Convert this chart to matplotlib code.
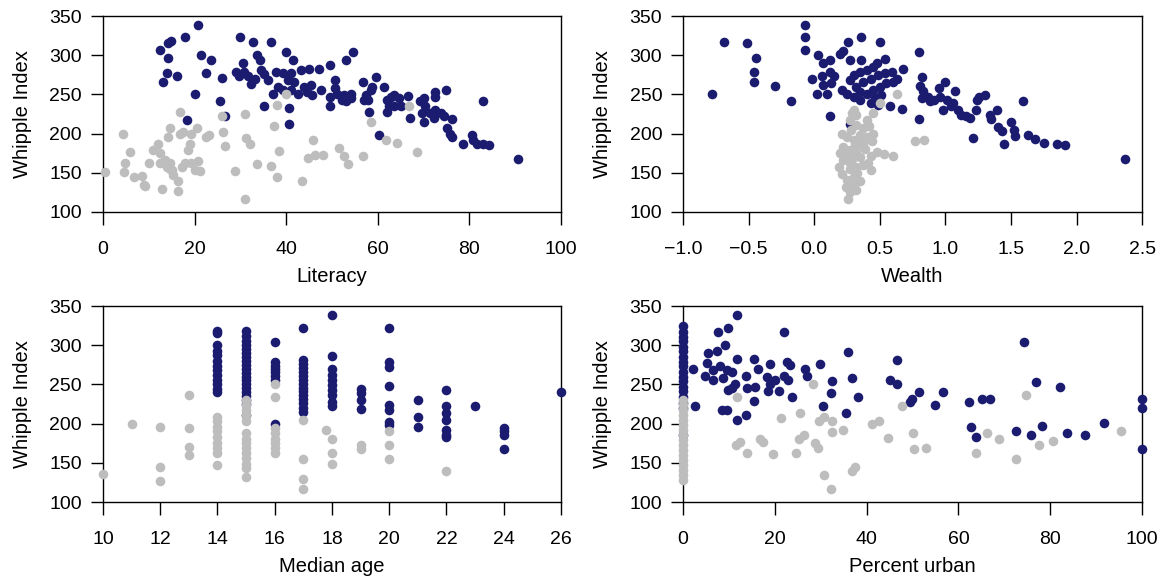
import numpy as np
import matplotlib
matplotlib.use("Agg")
import matplotlib.pyplot as plt

plt.rcParams['font.family'] = ['Liberation Sans', 'DejaVu Sans']

NAVY = '#1b1b6f'
GRAY = '#bdbdbd'

# ---- Literacy panel ----
lit_navy_x = [20.8, 14.8, 14.3, 17.9, 12.5, 14.1, 21.3, 23.5, 13.9, 13.2, 16.1, 22.4, 20.1, 25.9, 25.5,
              26.6, 18.4, 30.0, 32.8, 36.6, 33.6, 34.2, 40.0, 41.6, 30.6,
              29.1, 30.9, 29.8, 31.6, 34.5, 35.2, 36.0, 33.1, 32.4,
              37.8, 39.3, 41.1, 40.4, 41.8, 38.2, 37.1, 39.3, 41.1, 42.5,
              43.2, 45.0, 47.2, 49.6, 43.9, 45.4, 45.7, 47.5, 44.6,
              50.7, 50.7, 49.6, 49.6, 35.1, 40.6, 40.7,
              54.5, 53.0, 51.2, 52.7, 53.4, 54.1, 53.0, 54.1, 52.3,
              56.7, 59.6, 58.8, 58.5, 57.4, 57.8, 58.1, 57.0, 61.4, 60.3,
              62.1, 62.8, 63.5, 64.6, 62.4, 63.5, 62.1, 65.0, 66.6, 67.0,
              69.3, 70.0, 70.4, 69.7, 70.0, 72.6, 72.6, 74.8,
              71.5, 72.6, 73.7, 74.4, 72.2, 76.2, 75.1, 75.8, 76.2,
              78.7, 80.5, 80.9, 81.6, 83.0, 84.2, 83.0, 90.7]
lit_navy_y = [338, 318, 315, 323, 307, 297, 300, 294, 277, 266, 273, 277, 250, 271, 241,
              222, 217, 323, 317, 317, 300, 294, 304, 294, 290,
              279, 279, 273, 273, 281, 276, 268, 270, 263,
              279, 277, 277, 268, 266, 260, 251, 255, 255, 251,
              281, 283, 283, 287, 260, 262, 249, 255, 253,
              268, 258, 247, 235, 235, 233, 212,
              304, 294, 250, 249, 247, 245, 241, 251, 243,
              266, 272, 260, 255, 249, 243, 228, 243, 259, 198,
              243, 247, 249, 245, 235, 235, 228, 235, 248, 220,
              241, 245, 235, 226, 215, 253, 247, 256,
              226, 230, 226, 222, 220, 218, 207, 200, 196,
              187, 198, 192, 187, 187, 185, 241, 168]
lit_gray_x = [0.5, 4.3, 5.9, 4.9, 4.5, 6.7, 8.5, 8.9, 9.2, 13.0, 16.3, 16.3, 10.1, 11.0, 12.1, 12.5,
              12.5, 13.6, 14.6, 15.0, 15.3, 13.9, 14.7, 14.6, 14.3, 16.8, 17.5, 16.8,
              19.3, 20.6, 19.0, 18.6, 17.9, 17.2, 19.3, 20.8, 21.2, 20.1, 23.2, 22.4,
              25.9, 26.2, 26.7, 28.8, 31.0, 31.1, 31.3, 32.2, 33.7, 36.7, 37.9, 37.3, 38.4,
              37.9, 40.0, 43.5, 45.9, 44.8, 46.3, 48.1, 51.6,
              58.5, 66.8, 61.7, 64.1, 68.6, 56.7, 52.7, 53.6]
lit_gray_y = [151, 199, 176, 162, 151, 145, 146, 134, 133, 129, 139, 127, 163, 179, 187, 175,
              162, 166, 162, 154, 147, 158, 155, 207, 196, 200, 202, 228,
              200, 207, 187, 179, 162, 158, 162, 165, 152, 154, 198, 196,
              222, 202, 184, 152, 117, 225, 195, 187, 161, 159, 144, 210, 178,
              237, 251, 140, 192, 169, 173, 173, 181,
              215, 235, 192, 188, 176, 171, 171, 161]

# ---- Wealth panel ----
wea_navy_x = [-0.78, -0.69, -0.51, -0.44, -0.46, -0.46, -0.30, -0.18, -0.07, -0.07, -0.07,
              0.03, 0.07, 0.12, -0.02, 0.06, 0.12, 0.15, 0.07, 0.13, 0.02, 0.10, 0.12,
              0.20, 0.22, 0.26, 0.27, 0.36, 0.36, 0.50, 0.54, 0.68,
              0.27, 0.30, 0.35, 0.40, 0.45, 0.48, 0.32, 0.37, 0.43, 0.49, 0.54, 0.59, 0.63,
              0.21, 0.25, 0.30, 0.35, 0.40, 0.45, 0.50, 0.55, 0.60, 0.43, 0.49, 0.58, 0.67,
              0.35, 0.51, 0.46, 0.27,
              0.80, 0.82, 0.81, 0.83, 0.82, 0.87, 0.88, 0.91, 0.95, 0.96, 1.00, 1.01, 0.98,
              1.04, 1.07, 1.06, 1.10, 1.12, 1.16, 1.19,
              0.80, 1.21, 1.24, 1.26, 1.30, 1.23, 1.34, 1.39, 1.35, 1.40, 1.43, 1.45,
              1.50, 1.52, 1.53, 1.59, 1.63, 1.68, 1.75, 1.85, 1.91, 2.37]
wea_navy_y = [250, 317, 315, 297, 278, 266, 261, 241, 338, 323, 307,
              300, 290, 294, 270, 273, 279, 273, 262, 264, 250, 251, 222,
              302, 305, 317, 294, 323, 294, 317, 295, 282,
              268, 275, 279, 281, 285, 290, 260, 266, 270, 275, 277, 279, 270,
              256, 251, 247, 243, 251, 256, 260, 264, 266, 239, 236, 235, 232,
              253, 249, 245, 212,
              304, 272, 261, 254, 245, 247, 241, 243, 258, 247, 266, 243, 230,
              235, 254, 239, 230, 224, 222, 220,
              218, 195, 243, 247, 249, 230, 224, 230, 218, 209, 203, 187,
              215, 205, 197, 241, 198, 193, 188, 187, 185, 168]
wea_gray_x = [0.63, 0.50, 0.45, 0.29, 0.27, 0.32, 0.37, 0.21, 0.25, 0.30, 0.35, 0.40, 0.45,
              0.22, 0.27, 0.32, 0.37, 0.43, 0.22, 0.27, 0.32, 0.37, 0.43, 0.21, 0.25, 0.30,
              0.35, 0.24, 0.27, 0.26, 0.48, 0.53, 0.60, 0.32, 0.40, 0.77, 0.84,
              0.30, 0.28, 0.35, 0.31, 0.26, 0.35, 0.29, 0.33, 0.30, 0.27, 0.37, 0.24, 0.41, 0.32,
              0.20, 0.19, 0.42, 0.44, 0.39]
wea_gray_y = [251, 239, 226, 226, 217, 211, 207, 200, 196, 192, 192, 196, 200,
              183, 179, 175, 183, 171, 166, 162, 158, 160, 154, 149, 141, 145,
              139, 132, 126, 116, 177, 174, 172, 224, 217, 190, 192,
              230, 205, 198, 186, 178, 170, 168, 150, 135, 155, 188, 172, 163, 128,
              175, 158, 210, 190, 180]

# ---- Median age panel ----
age_navy = {14: [318, 315, 300, 293, 287, 280, 274, 268, 262, 256, 250, 244, 240],
            15: [318, 312, 305, 300, 295, 290, 285, 280, 275, 270, 265, 260, 255, 250, 245,
                 240, 235, 230, 225, 211],
            16: [304, 278, 274, 270, 266, 261, 256, 200],
            17: [322, 281, 276, 271, 266, 261, 256, 251, 246, 241, 236, 231, 226, 220, 215],
            18: [338, 286, 270, 262, 256, 249, 243, 236, 228, 222],
            19: [244, 239, 230, 219],
            20: [322, 278, 272, 248, 224, 217, 202, 198],
            21: [230, 208, 196],
            22: [243, 222, 213, 205, 192, 186, 183],
            23: [222],
            24: [194, 190, 186, 168],
            26: [240]}
age_gray = {10: [136], 11: [199], 12: [196, 145, 127], 13: [237, 195, 170, 160],
            14: [209, 203, 196, 190, 183, 175, 169, 162, 147],
            15: [230, 224, 217, 211, 203, 188, 181, 175, 169, 162, 156, 149, 143, 132],
            16: [250, 234, 194, 188, 181, 175, 169, 162],
            17: [205, 155, 129, 116], 17.8: [192], 18: [180, 162, 149],
            19: [173, 167], 20: [190, 173, 155], 22: [140]}

# ---- Percent urban panel ----
urb_navy_zero = [324, 317, 311, 305, 298, 292, 285, 279, 273, 266, 260, 254, 247, 241, 234,
                 226, 220, 186]
urb_navy_x = [2.2, 2.5, 11.7, 7.7, 9.9, 5.5, 7.3, 9.1, 11.7, 5.2, 6.6, 8.1, 9.5, 10.6, 4.8,
              6.6, 8.8, 9.9, 11.3, 10.6, 8.4, 9.5, 11.7, 13.7, 13.7, 15.5, 16.4, 14.0, 15.7,
              15.5, 18.9, 18.2, 18.9, 18.6, 20.0, 20.8, 21.9, 22.6, 23.3, 22.0, 22.9, 23.7,
              26.6, 26.9, 29.9, 30.4, 32.4, 32.2, 36.0, 36.7, 38.2, 35.5, 46.5, 45.1, 46.7,
              49.4, 49.8, 51.3, 54.9, 56.7, 62.4, 65.1, 66.8, 62.7, 63.8, 74.3, 76.9, 72.5,
              75.9, 78.3, 82.1, 83.6, 87.6, 91.7, 100, 100, 100]
urb_navy_y = [270, 223, 338, 317, 322, 290, 292, 300, 283, 277, 268, 273, 268, 266, 261,
              256, 258, 243, 251, 245, 217, 217, 204, 211, 261, 283, 270, 245, 247,
              229, 276, 260, 251, 241, 256, 241, 261, 279, 275, 317, 256, 234,
              270, 261, 276, 222, 254, 239, 291, 258, 234, 214, 281, 256, 251,
              228, 231, 240, 224, 240, 227, 232, 232, 196, 183, 304, 253, 191,
              186, 197, 247, 188, 185, 201, 231, 220, 168]
urb_gray_zero = [230, 224, 217, 211, 205, 198, 192, 186, 179, 173, 166, 160, 154, 147, 141,
                 134, 128]
urb_gray_x = [11.8, 11.5, 12.3, 13.9, 16.8, 17.5, 19.7, 21.3, 24.6, 25.5, 25.3, 26.4, 28.4,
              29.7, 30.7, 28.8, 29.3, 32.4, 32.5, 30.7, 32.2, 34.9, 36.7, 37.5, 41.1, 42.6,
              44.7, 47.6, 50.0, 50.3, 52.9, 63.8, 66.2, 68.9, 72.5, 74.7, 77.6, 80.5, 95.4]
urb_gray_y = [234, 173, 177, 163, 181, 176, 161, 207, 163, 214, 181, 186, 251,
              203, 209, 175, 169, 203, 189, 134, 116, 192, 140, 145, 199, 203,
              182, 223, 188, 168, 169, 162, 188, 181, 155, 237, 173, 178, 191]


def expand(groups):
    xs, ys = [], []
    for k, vals in groups.items():
        xs += [k] * len(vals)
        ys += vals
    return xs, ys


age_navy_x, age_navy_y = expand(age_navy)
age_gray_x, age_gray_y = expand(age_gray)

panels = [
    dict(pos=[0.0883, 0.637, 0.3928, 0.3356], label='Literacy', xlim=(0, 100),
         xticks=np.arange(0, 101, 20), navy=(lit_navy_x, lit_navy_y), gray=(lit_gray_x, lit_gray_y)),
    dict(pos=[0.5858, 0.637, 0.3937, 0.3356], label='Wealth', xlim=(-1, 2.5),
         xticks=np.arange(-1, 2.51, 0.5), navy=(wea_navy_x, wea_navy_y), gray=(wea_gray_x, wea_gray_y)),
    dict(pos=[0.0883, 0.1404, 0.3928, 0.3356], label='Median age', xlim=(10, 26),
         xticks=np.arange(10, 27, 2), navy=(age_navy_x, age_navy_y), gray=(age_gray_x, age_gray_y)),
    dict(pos=[0.5858, 0.1404, 0.3937, 0.3356], label='Percent urban', xlim=(0, 100),
         xticks=np.arange(0, 101, 20),
         navy=([0] * len(urb_navy_zero) + urb_navy_x, urb_navy_zero + urb_navy_y),
         gray=([0] * len(urb_gray_zero) + urb_gray_x, urb_gray_zero + urb_gray_y)),
]

fig = plt.figure(figsize=(11.66, 5.84), dpi=100)

for p in panels:
    ax = fig.add_axes(p['pos'])
    ax.scatter(*p['navy'], s=48, color=NAVY, linewidths=0, clip_on=False, zorder=3)
    ax.scatter(*p['gray'], s=48, color=GRAY, linewidths=0, clip_on=False, zorder=4)
    ax.set_xlim(*p['xlim'])
    ax.set_ylim(100, 350)
    ax.set_xticks(p['xticks'])
    if p['label'] == 'Wealth':
        ax.set_xticklabels([f'{v:.1f}'.replace('-', '\u2212') for v in p['xticks']])
    ax.set_yticks(np.arange(100, 351, 50))
    ax.tick_params(direction='out', length=9, width=1, labelsize=14, colors='black')
    ax.tick_params(axis='x', pad=12)
    ax.tick_params(axis='y', pad=6)
    for s in ax.spines.values():
        s.set_linewidth(1.0)
        s.set_color('black')
    ax.set_xlabel(p['label'], fontsize=14.5, va='center')
    ax.xaxis.set_label_coords(0.5, -0.33)
    ax.set_ylabel('Whipple Index', fontsize=14.5, va='center')
    ax.yaxis.set_label_coords(-0.175, 0.5)

fig.savefig('out.png', dpi=100)
